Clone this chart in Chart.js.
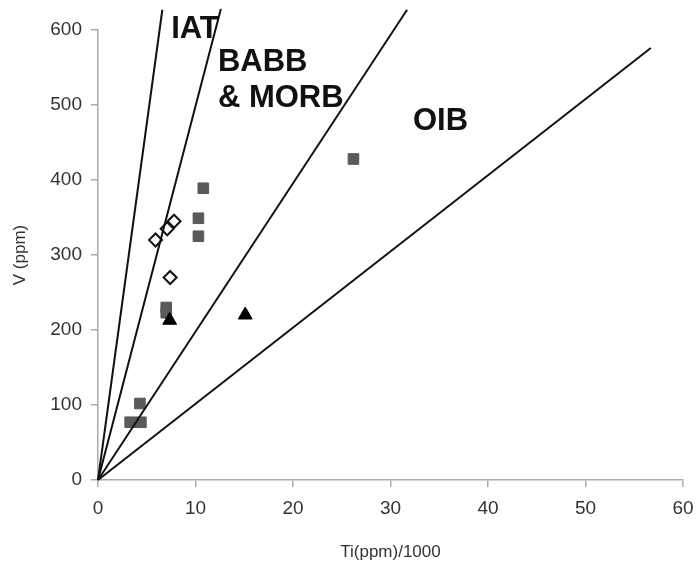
<!DOCTYPE html>
<html>
<head>
<meta charset="utf-8">
<script src="https://cdn.jsdelivr.net/npm/chart.js@4/dist/chart.umd.min.js"></script>
<style>
  html, body { margin: 0; padding: 0; background: #fff; }
  #wrap { width: 698px; height: 573px; }
</style>
</head>
<body>
<div id="wrap"><canvas id="c" width="698" height="573"></canvas></div>
<script>
// Reference lines Ti/V (end points)
const lineEndX = [6.6, 12.6, 31.7, 56.7];
const lineEndY = [627, 628, 627, 576];

// Gray squares
const squaresX = [26.2, 10.8, 10.3, 10.3, 7.0, 7.0, 4.3, 3.3, 4.4];
const squaresY = [428, 389, 349, 325, 230, 223, 102, 77, 77];

// Open diamonds
const diamondsX = [5.9, 7.1, 7.8, 7.4];
const diamondsY = [320, 335, 345, 270];

// Black triangles
const trianglesX = [7.35, 15.1];
const trianglesY = [213, 220];

// Field labels
const fieldLabels = ['IAT', 'BABB', '& MORB', 'OIB'];
const fieldLabelX = [7.5, 12.3, 12.3, 32.3];
const fieldLabelY = [590, 545, 497, 467];

const xTicks = [0, 10, 20, 30, 40, 50, 60];
const yTicks = [0, 100, 200, 300, 400, 500, 600];

const FONT = '"Liberation Sans", Arial, sans-serif';
const AXIS_GRAY = '#ababab';

function pts(xs, ys) { return xs.map((x, i) => ({x: x, y: ys[i]})); }

const lineSets = lineEndX.map((x, i) => ({
  type: 'line',
  data: [{x: 0, y: 0}, {x: x, y: lineEndY[i]}],
  borderColor: '#111',
  borderWidth: 2,
  pointRadius: 0,
  fill: false,
  clip: false
}));

const labelPlugin = {
  id: 'fieldLabels',
  afterDatasetsDraw(chart) {
    const {ctx, scales} = chart;
    ctx.save();
    ctx.fillStyle = '#111';
    ctx.font = 'bold 31px ' + FONT;
    ctx.textAlign = 'left';
    ctx.textBaseline = 'alphabetic';
    fieldLabels.forEach((t, i) => {
      ctx.fillText(t, scales.x.getPixelForValue(fieldLabelX[i]), scales.y.getPixelForValue(fieldLabelY[i]));
    });
    ctx.restore();
  }
};

new Chart(document.getElementById('c'), {
  type: 'scatter',
  data: {
    datasets: [
      ...lineSets,
      {
        data: pts(trianglesX, trianglesY),
        pointStyle: 'triangle',
        pointRadius: 8,
        backgroundColor: '#000',
        borderColor: '#000',
        borderWidth: 1
      },
      {
        data: pts(diamondsX, diamondsY),
        pointStyle: 'rectRot',
        pointRadius: 6.5,
        backgroundColor: '#fff',
        borderColor: '#111',
        borderWidth: 2
      },
      {
        data: pts(squaresX, squaresY),
        pointStyle: 'rect',
        pointRadius: 7.5,
        backgroundColor: '#5a5a5a',
        borderColor: '#5a5a5a',
        borderWidth: 1
      }
    ]
  },
  options: {
    responsive: false,
    animation: false,
    events: [],
    layout: { padding: { left: 0, right: 15, top: 30, bottom: 0 } },
    plugins: { legend: { display: false }, tooltip: { enabled: false } },
    scales: {
      x: {
        type: 'linear',
        min: 0, max: 60,
        afterBuildTicks(s) { s.ticks = xTicks.map(v => ({value: v})); },
        afterFit(s) { s.height = 93; s.paddingRight = 0; s.paddingLeft = 0; },
        border: { color: AXIS_GRAY, width: 1.5 },
        grid: { drawOnChartArea: false, drawTicks: true, tickLength: 7, color: AXIS_GRAY, lineWidth: 1.5 },
        ticks: { color: '#333', font: { family: FONT, size: 19 }, padding: 10, maxRotation: 0 },
        title: { display: true, text: 'Ti(ppm)/1000', color: '#333', font: { family: FONT, size: 17 }, padding: { top: 0, bottom: 10 } }
      },
      y: {
        type: 'linear',
        min: 0, max: 600,
        afterBuildTicks(s) { s.ticks = yTicks.map(v => ({value: v})); },
        afterFit(s) { s.width = 98; s.paddingTop = 0; s.paddingBottom = 0; },
        border: { color: AXIS_GRAY, width: 1.5 },
        grid: { drawOnChartArea: false, drawTicks: true, tickLength: 7, color: AXIS_GRAY, lineWidth: 1.5 },
        ticks: { color: '#333', font: { family: FONT, size: 19 }, padding: 9 },
        title: { display: true, text: 'V (ppm)', color: '#333', font: { family: FONT, size: 17 }, padding: { top: 10, bottom: 0 } }
      }
    }
  },
  plugins: [labelPlugin]
});
</script>
</body>
</html>
